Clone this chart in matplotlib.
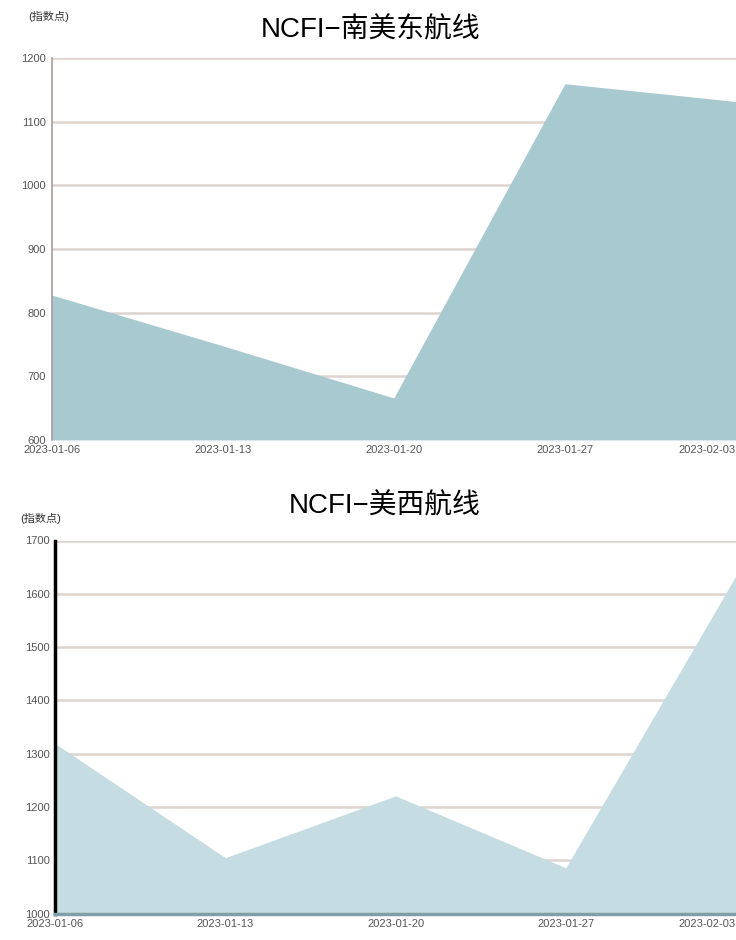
import matplotlib
matplotlib.use("Agg")
import matplotlib.pyplot as plt

plt.rcParams['font.family'] = ['Liberation Sans', 'Noto Sans CJK SC', 'DejaVu Sans']

# Data (approximate):
dates = ["2023-01-06", "2023-01-13", "2023-01-20", "2023-01-27", "2023-02-03"]

sa_east = [828, 748, 666, 1160, 1132]          # NCFI-南美东航线
sa_ticks = [600, 700, 800, 900, 1000, 1100, 1200]

us_west = [1319, 1105, 1221, 1086, 1634]        # NCFI-美西航线
us_ticks = [1000, 1100, 1200, 1300, 1400, 1500, 1600, 1700]

unit = "(指数点)"

fig = plt.figure(figsize=(7.36, 9.40), dpi=100)

x = list(range(len(dates)))


def style_axes(ax, ticks, grid_col):
    ax.set_xlim(0, 4)
    ax.set_ylim(ticks[0], ticks[-1])
    ax.set_yticks(ticks)
    ax.set_yticklabels([str(t) for t in ticks], fontsize=8, color="#555555")
    ax.set_xticks(x)
    ax.set_xticklabels(dates, fontsize=8, color="#555555")
    # last date sits on the right edge, keep it inside the picture
    ax.get_xticklabels()[-1].set_horizontalalignment("right")
    ax.tick_params(length=0, pad=4)
    for t in ticks[1:]:
        ax.axhline(t, color=grid_col, lw=1.8, zorder=0)
    ax.spines["top"].set_visible(False)
    ax.spines["right"].set_visible(False)


# Top chart:
ax1 = fig.add_axes([0.070, 0.532, 0.93, 0.406])
ax1.fill_between(x, sa_ticks[0], sa_east, color="#a8c9d0", lw=0, zorder=2)
style_axes(ax1, sa_ticks, "#ddd4d0")
ax1.spines["left"].set_color("#a89c98")
ax1.spines["left"].set_linewidth(1.2)
ax1.spines["left"].set_zorder(5)
ax1.spines["bottom"].set_visible(False)
fig.text(0.503, 0.968, "NCFI−南美东航线", fontsize=20, ha="center", va="center")
fig.text(0.066, 0.982, unit, fontsize=8, ha="center", va="center", color="#333333")

# Bottom chart:
ax2 = fig.add_axes([0.075, 0.028, 0.925, 0.397])
ax2.fill_between(x, us_ticks[0], us_west, color="#c4dce2", lw=0, zorder=2)
style_axes(ax2, us_ticks, "#ddd4d0")
ax2.spines["left"].set_color("black")
ax2.spines["left"].set_linewidth(2.5)
ax2.spines["left"].set_zorder(5)
ax2.spines["bottom"].set_color("#7f9ea5")
ax2.spines["bottom"].set_linewidth(2.5)
ax2.spines["bottom"].set_zorder(5)
fig.text(0.523, 0.461, "NCFI−美西航线", fontsize=20, ha="center", va="center")
fig.text(0.055, 0.448, unit, fontsize=8, ha="center", va="center", color="#333333")

plt.savefig("out.png", dpi=100)
